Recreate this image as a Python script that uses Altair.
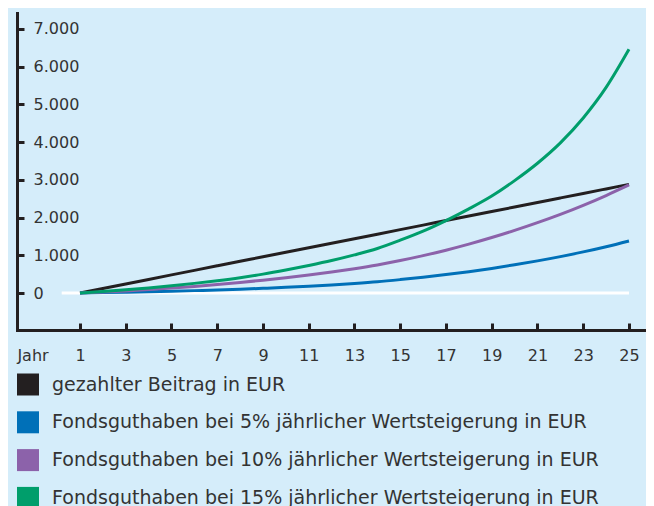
import altair as alt
import pandas as pd

# ---- data ----
years = list(range(1, 26))
beitrag = [0, 120, 240, 360, 480, 600, 720, 840, 960, 1080, 1200, 1320, 1440,
           1560, 1680, 1800, 1920, 2040, 2160, 2280, 2400, 2520, 2640, 2760, 2880]
fonds5 = [0, 10, 21, 33, 47, 63, 81, 101, 124, 150, 180, 214, 253,
          298, 355, 418, 488, 565, 652, 748, 852, 965, 1090, 1228, 1380]
fonds10 = [0, 25, 55, 90, 130, 175, 225, 280, 340, 405, 475, 555, 645,
           745, 860, 990, 1135, 1295, 1470, 1660, 1865, 2085, 2325, 2585, 2865]
fonds15 = [0, 40, 85, 135, 190, 255, 325, 405, 500, 610, 730, 860, 1010,
           1180, 1400, 1640, 1920, 2230, 2570, 2980, 3440, 3980, 4640, 5450, 6460]

series_names = [
    "gezahlter Beitrag in EUR",
    "Fondsguthaben bei 5% jährlicher Wertsteigerung in EUR",
    "Fondsguthaben bei 10% jährlicher Wertsteigerung in EUR",
    "Fondsguthaben bei 15% jährlicher Wertsteigerung in EUR",
]
series_values = [beitrag, fonds5, fonds10, fonds15]
colors = ["#231f20", "#0070b8", "#8c62aa", "#009e6b"]

y_ticks = [0, 1000, 2000, 3000, 4000, 5000, 6000, 7000]
x_ticks = [1, 3, 5, 7, 9, 11, 13, 15, 17, 19, 21, 23, 25]
zero_line_from = [0.2]
zero_line_to = [25]
zero_line_y = [0]

rows = []
for name, vals in zip(series_names, series_values):
    for yr, v in zip(years, vals):
        rows.append({"Jahr": yr, "Wert": v, "Reihe": name})
df = pd.DataFrame(rows)

zero_df = pd.DataFrame({"x": zero_line_from, "x2": zero_line_to, "y": zero_line_y})

# ---- styling ----
W, H = 628, 317
FONT = "DejaVu Sans"
TXT = "#333333"
AX = "#231f20"

xscale = alt.Scale(domain=[-1.754, 25.70], nice=False, zero=False)
yscale = alt.Scale(domain=[-981, 7424], nice=False, zero=False)
cscale = alt.Scale(domain=series_names, range=colors)

xaxis = alt.Axis(
    orient="top", offset=-H, values=x_ticks, grid=False,
    title="Jahr", titleX=15.5, titleY=25, titleAlign="center",
    titleBaseline="middle", titleAngle=0, titleFontWeight="normal",
    titleFontSize=16, titleColor=TXT, titleFont=FONT,
    labelPadding=-32, labelBaseline="middle", labelFontSize=16,
    labelColor=TXT, labelFont=FONT, labelFlush=False, labelOverlap=False,
    tickSize=7, tickWidth=3, tickColor=AX,
    domainWidth=3, domainColor=AX, domainCap="square",
)
yaxis = alt.Axis(
    orient="right", offset=-W, values=y_ticks, grid=False, title=None,
    labelExpr="replace(format(datum.value, ','), ',', '.')",
    labelPadding=9, labelFontSize=16, labelColor=TXT, labelFont=FONT,
    labelBaseline="middle", labelFlush=False, labelOverlap=False,
    tickSize=7, tickWidth=3, tickColor=AX,
    domainWidth=3, domainColor=AX, domainCap="square",
)
legend = alt.Legend(
    orient="none", legendX=0, legendY=360.5, title=None,
    symbolType="square", symbolSize=484, symbolStrokeWidth=0,
    symbolOpacity=1, labelFontSize=19, labelColor=TXT, labelFont=FONT,
    labelOffset=13, rowPadding=15.8, labelLimit=800, padding=0,
)

base = alt.Chart(df)

squares = base.transform_filter("datum.Jahr < 0").mark_square(
    opacity=1, filled=True
).encode(
    x=alt.X("Jahr:Q", scale=xscale, axis=xaxis),
    y=alt.Y("Wert:Q", scale=yscale, axis=yaxis),
    color=alt.Color("Reihe:N", scale=cscale, legend=legend, sort=series_names),
)

zero = alt.Chart(zero_df).mark_rule(color="white", strokeWidth=3).encode(
    x=alt.X("x:Q", scale=xscale, axis=xaxis),
    x2="x2:Q",
    y=alt.Y("y:Q", scale=yscale, axis=yaxis),
)

lines = base.mark_line(strokeWidth=3, interpolate="monotone").encode(
    x=alt.X("Jahr:Q", scale=xscale, axis=xaxis),
    y=alt.Y("Wert:Q", scale=yscale, axis=yaxis),
    color=alt.Color("Reihe:N", scale=cscale, legend=legend, sort=series_names),
    order=alt.Order("Jahr:Q"),
)

chart = alt.layer(squares, zero, lines).properties(
    width=W, height=H,
    padding={"left": 9, "top": 5, "right": 1, "bottom": 176},
    autosize=alt.AutoSizeParams(type="none"),
    background="#d5edfa",
).configure_view(stroke=None)

chart.save("out.html", embed_options={"renderer": "svg", "actions": False})
